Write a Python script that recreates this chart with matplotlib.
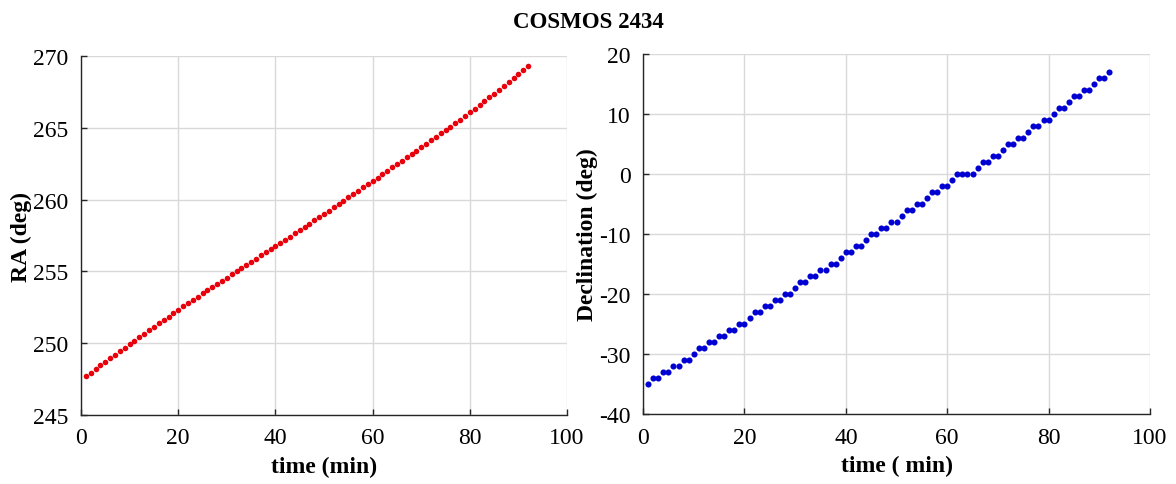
import numpy as np
import matplotlib.pyplot as plt

plt.rcParams['font.family'] = ['Liberation Serif', 'DejaVu Serif']
plt.rcParams['axes.unicode_minus'] = False

# time in minutes, one sample per minute
t_min = list(range(1, 93))

ra_deg = [
    247.70, 247.95, 248.20, 248.45, 248.70, 248.95, 249.19, 249.44, 249.68, 249.93,
    250.17, 250.41, 250.66, 250.90, 251.14, 251.38, 251.62, 251.86, 252.10, 252.34,
    252.57, 252.80, 253.03, 253.25, 253.47, 253.69, 253.91, 254.13, 254.35, 254.57,
    254.79, 255.01, 255.23, 255.45, 255.67, 255.89, 256.11, 256.33, 256.55, 256.77,
    256.99, 257.21, 257.43, 257.66, 257.88, 258.11, 258.33, 258.56, 258.78, 259.01,
    259.24, 259.47, 259.70, 259.93, 260.16, 260.39, 260.62, 260.85, 261.08, 261.31,
    261.54, 261.77, 262.00, 262.24, 262.47, 262.71, 262.94, 263.18, 263.41, 263.65,
    263.89, 264.13, 264.37, 264.61, 264.85, 265.09, 265.33, 265.58, 265.83, 266.08,
    266.34, 266.60, 266.86, 267.12, 267.39, 267.66, 267.93, 268.20, 268.48, 268.76,
    269.04, 269.32,
]

dec_deg = [
    -35, -34, -34, -33, -33, -32, -32, -31, -31, -30,
    -29, -29, -28, -28, -27, -27, -26, -26, -25, -25,
    -24, -23, -23, -22, -22, -21, -21, -20, -20, -19,
    -18, -18, -17, -17, -16, -16, -15, -15, -14, -13,
    -13, -12, -12, -11, -10, -10, -9, -9, -8, -8,
    -7, -6, -6, -5, -5, -4, -3, -3, -2, -2,
    -1, 0, 0, 0, 0, 1, 2, 2, 3, 3,
    4, 5, 5, 6, 6, 7, 8, 8, 9, 9,
    10, 11, 11, 12, 13, 13, 14, 14, 15, 16,
    16, 17,
]

ra_ticks = [245, 250, 255, 260, 265, 270]
dec_ticks = [-40, -30, -20, -10, 0, 10, 20]
t_ticks = [0, 20, 40, 60, 80, 100]


def style_axes(ax):
    ax.grid(True, color='#d9d9d9', linewidth=1.0)
    ax.set_axisbelow(True)
    ax.spines['top'].set_visible(False)
    ax.spines['right'].set_visible(False)
    for s in ('left', 'bottom'):
        ax.spines[s].set_color('#262626')
        ax.spines[s].set_linewidth(1.0)
    ax.tick_params(direction='in', length=4, width=1, labelsize=17, colors='#262626',
                   labelcolor='black')
    ax.tick_params(axis='x', pad=9)
    ax.tick_params(axis='y', pad=9)
    ax.set_xlim(0, 100)
    ax.set_xticks(t_ticks)


fig = plt.figure(figsize=(11.76, 4.85), dpi=100)

ax1 = fig.add_axes([0.0689, 0.1423, 0.4133, 0.740])
ax1.plot(t_min, ra_deg, 'o', color='#e8000b', markersize=4.0, markeredgewidth=0)
style_axes(ax1)
ax1.set_ylim(245, 270)
ax1.set_yticks(ra_ticks)
ax1.set_xlabel('time (min)', fontsize=17, fontweight='bold', labelpad=5)
ax1.set_ylabel('RA (deg)', fontsize=17, fontweight='bold', labelpad=1)

ax2 = fig.add_axes([0.5468, 0.1443, 0.4311, 0.742])
ax2.plot(t_min, dec_deg, 'o', color='#0000d2', markersize=4.4, markeredgewidth=0)
style_axes(ax2)
ax2.set_ylim(-40, 20)
ax2.set_yticks(dec_ticks)
ax2.set_xlabel('time ( min)', fontsize=17, fontweight='bold', labelpad=5)
ax2.set_ylabel('Declination (deg)', fontsize=17, fontweight='bold', labelpad=1)

fig.suptitle('COSMOS 2434', fontsize=16.5, fontweight='bold', y=0.975)

fig.savefig('out.png', dpi=100)
